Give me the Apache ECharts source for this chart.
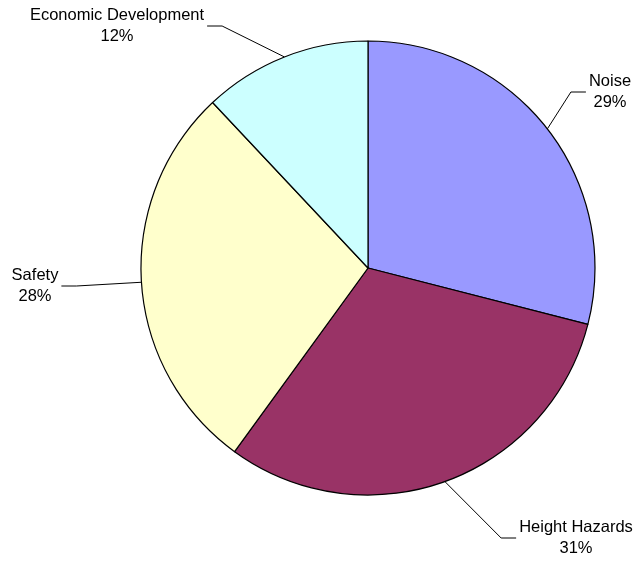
<!DOCTYPE html>
<html>
<head>
<meta charset="utf-8">
<script src="https://cdn.jsdelivr.net/npm/echarts@6/dist/echarts.min.js"></script>
<style>
  html, body { margin: 0; padding: 0; background: #fff; }
  #chart { width: 637px; height: 562px; }
</style>
</head>
<body>
<div id="chart"></div>
<script>
  // slices, clockwise from 12 o'clock
  var categories = ['Noise', 'Height Hazards', 'Safety', 'Economic Development']
  var shares = [29, 31, 28, 12]
  var sliceColors = ['#9999FF', '#993366', '#FFFFCC', '#CCFFFF']

  // where each label sits and which side its leader line leaves from
  var labelPos = [
    {x: 610, y: 92, side: 'left'},
    {x: 576, y: 538, side: 'left'},
    {x: 35, y: 286, side: 'right'},
    {x: 117, y: 26, side: 'right'}
  ]

  var chart = echarts.init(document.getElementById('chart'))

  chart.setOption({
    backgroundColor: '#fff',
    animation: false,
    series: [
      {
        type: 'pie',
        center: [368, 268],
        radius: 227,
        startAngle: 90,
        clockwise: true,
        avoidLabelOverlap: false,
        emphasis: {scale: false},
        itemStyle: {
          borderColor: '#000',
          borderWidth: 1.2
        },
        label: {
          show: true,
          position: 'outside',
          formatter: '{b}\n{d}%',
          fontFamily: '"Liberation Sans", Arial, sans-serif',
          fontSize: 16.5,
          lineHeight: 21,
          color: '#000',
          align: 'center'
        },
        labelLine: {
          show: true,
          length: 20,
          length2: 15,
          lineStyle: {color: '#000', width: 1}
        },
        labelLayout: function (params) {
          var pos = labelPos[params.dataIndex]
          var w = params.labelRect.width
          var p0 = params.labelLinePoints ? params.labelLinePoints[0] : null
          if (!p0) {
            // fall back to the edge at the slice's mid angle
            var before = 0
            for (var i = 0; i < params.dataIndex; i++) before += shares[i]
            var mid = (before + shares[params.dataIndex] / 2) / 100 * Math.PI * 2
            p0 = [368 + 227 * Math.sin(mid), 268 - 227 * Math.cos(mid)]
          }
          var edgeX = pos.side === 'right' ? pos.x + w / 2 + 3 : pos.x - w / 2 - 3
          var bendX = pos.side === 'right' ? edgeX + 15 : edgeX - 15
          return {
            x: pos.x,
            y: pos.y,
            align: 'center',
            verticalAlign: 'middle',
            labelLinePoints: [p0, [bendX, pos.y], [edgeX, pos.y]]
          }
        },
        data: categories.map(function (name, i) {
          return {name: name, value: shares[i], itemStyle: {color: sliceColors[i]}}
        })
      }
    ]
  })
</script>
</body>
</html>
